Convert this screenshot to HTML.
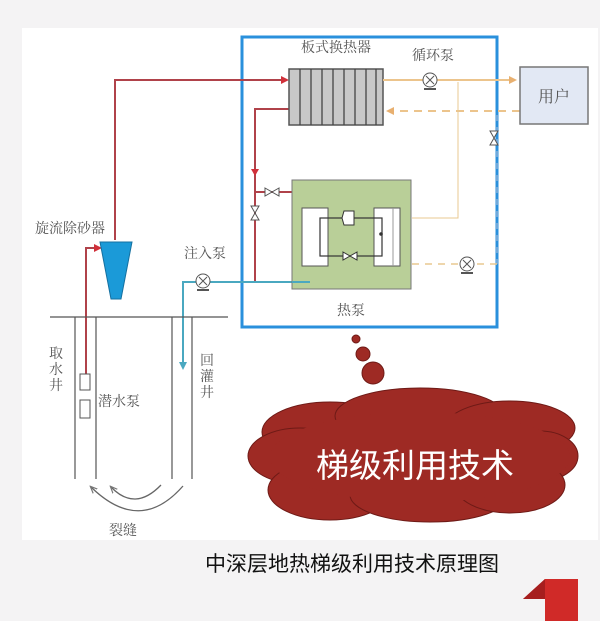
<!DOCTYPE html>
<html><head><meta charset="utf-8"><style>
html,body{margin:0;padding:0;background:#f4f3f4;}
svg{display:block;}
text{font-family:"Liberation Serif","Noto Serif CJK SC",serif;fill:#555;}
</style></head><body>
<svg width="600" height="621" viewBox="0 0 600 621" xmlns="http://www.w3.org/2000/svg">
<defs>
<marker id="ar" markerWidth="8" markerHeight="8" refX="6" refY="4" orient="auto" markerUnits="userSpaceOnUse"><path d="M0,0 L8,4 L0,8z" fill="#d0303a"/></marker>
<marker id="ao" markerWidth="8" markerHeight="8" refX="6" refY="4" orient="auto" markerUnits="userSpaceOnUse"><path d="M0,0 L8,4 L0,8z" fill="#e8b070"/></marker>
<marker id="at" markerWidth="8" markerHeight="8" refX="6" refY="4" orient="auto" markerUnits="userSpaceOnUse"><path d="M0,0 L8,4 L0,8z" fill="#4aa8c0"/></marker>
<marker id="ag" markerWidth="8" markerHeight="8" refX="6" refY="4" orient="auto" markerUnits="userSpaceOnUse"><path d="M0,1 L7,4 L0,7" fill="none" stroke="#777" stroke-width="1.2"/></marker>
</defs>
<rect x="22" y="28" width="576" height="512" fill="#fff"/>

<rect x="242" y="37" width="255" height="290" fill="none" stroke="#2a90dc" stroke-width="3"/>

<polyline points="115,240 115,80 287,80" fill="none" stroke="#b0424a" stroke-width="2" marker-end="url(#ar)"/>
<polyline points="289,109 255,109 255,282" fill="none" stroke="#b0424a" stroke-width="2"/>
<path d="M255,176 l-4,-7 h8z" fill="#d0303a"/>
<polyline points="255,192 309,192 309,282" fill="none" stroke="#b0424a" stroke-width="2"/>
<polyline points="86,376 86,248 100,248" fill="none" stroke="#b0424a" stroke-width="2" marker-end="url(#ar)"/>
<g stroke="#555" fill="#fff" stroke-width="1"><path d="M265,188 l7,4 l-7,4z M279,188 l-7,4 l7,4z"/><path d="M251,206 l4,7 l4,-7z M251,220 l4,-7 l4,7z"/></g>

<polyline points="309,282 183,282 183,368" fill="none" stroke="#4aa8c0" stroke-width="2" marker-end="url(#at)"/>
<circle cx="203" cy="281" r="7" fill="#fff" stroke="#555"/><path d="M199,277l8,8M207,277l-8,8" stroke="#555"/><path d="M197,290h12" stroke="#555" stroke-width="2"/>

<rect x="289" y="69" width="94" height="56" fill="#c8c8c8" stroke="#555" stroke-width="1.5"/>
<g stroke="#444" stroke-width="1.3"><path d="M300,69v56M311,69v56M322,69v56M333,69v56M344,69v56M355,69v56M366,69v56M376,69v56"/></g>

<line x1="383" y1="80" x2="515" y2="80" stroke="#ecc48c" stroke-width="2" marker-end="url(#ao)"/>
<line x1="520" y1="111" x2="388" y2="111" stroke="#ecc48c" stroke-width="2" stroke-dasharray="8,6" marker-end="url(#ao)"/>
<polyline points="412,218 458,218 458,82" fill="none" stroke="#e8c890" stroke-width="1"/>
<circle cx="430" cy="80" r="7" fill="#fff" stroke="#555"/><path d="M426,76l8,8M434,76l-8,8" stroke="#555"/><path d="M424,89h12" stroke="#555" stroke-width="2"/>

<rect x="520" y="67" width="68" height="57" fill="#e2e8f4" stroke="#777" stroke-width="1.5"/>
<text x="554" y="102" font-size="16" text-anchor="middle">用户</text>

<line x1="497" y1="115" x2="497" y2="264" stroke="#8ab0d8" stroke-width="1.5" stroke-dasharray="6,6"/>
<line x1="412" y1="264" x2="497" y2="264" stroke="#e8c890" stroke-width="1.5" stroke-dasharray="7,6"/>
<circle cx="467" cy="264" r="7" fill="#fff" stroke="#555"/><path d="M463,260l8,8M471,260l-8,8" stroke="#555"/><path d="M461,273h12" stroke="#555" stroke-width="2"/>
<g stroke="#555" fill="#fff"><path d="M490,131 l4,7 l4,-7z M490,145 l4,-7 l4,7z"/></g>

<rect x="292" y="180" width="119" height="109" fill="#b9cf98" stroke="#777" stroke-width="1"/>
<rect x="302" y="208" width="26" height="58" fill="#fff" stroke="#555"/>
<rect x="374" y="208" width="26" height="58" fill="#fff" stroke="#555"/>
<line x1="393" y1="208" x2="393" y2="266" stroke="#999"/>
<rect x="320" y="218" width="62" height="38" fill="none" stroke="#333" stroke-width="1.2"/>
<path d="M344,211 h10 v14 h-10 l-2,-7z" fill="#fff" stroke="#333"/>
<path d="M343,252 l7,4 l-7,4z M357,252 l-7,4 l7,4z" fill="#fff" stroke="#333"/>
<circle cx="381" cy="234" r="1.8" fill="#333"/>
<line x1="292" y1="282" x2="310" y2="282" stroke="#4aa8c0" stroke-width="2"/>

<text x="336" y="52" font-size="14" text-anchor="middle">板式换热器</text>
<text x="433" y="60" font-size="14" text-anchor="middle">循环泵</text>
<text x="351" y="315" font-size="14" text-anchor="middle">热泵</text>
<text x="70" y="233" font-size="14" text-anchor="middle">旋流除砂器</text>
<text x="205" y="258" font-size="14" text-anchor="middle">注入泵</text>

<path d="M100,242 h32 l-11,57 h-10z" fill="#1b9ad8" stroke="#1570a0"/>

<line x1="50" y1="317" x2="228" y2="317" stroke="#555" stroke-width="1.2"/>
<g stroke="#555" stroke-width="1.2"><path d="M75,317v162M96,317v162M172,317v162M192,317v162"/></g>
<rect x="80" y="374" width="10" height="16" fill="#fff" stroke="#555"/>
<rect x="80" y="400" width="10" height="18" fill="#fff" stroke="#555"/>
<text x="119" y="406" font-size="14" text-anchor="middle">潜水泵</text>
<text font-size="14" text-anchor="middle"><tspan x="56" y="358">取</tspan><tspan x="56" y="374">水</tspan><tspan x="56" y="390">井</tspan></text>
<text font-size="14" text-anchor="middle"><tspan x="207" y="365">回</tspan><tspan x="207" y="381">灌</tspan><tspan x="207" y="397">井</tspan></text>
<path d="M183,486 Q140,535 91,487" fill="none" stroke="#666" stroke-width="1.3" marker-end="url(#ag)"/>
<path d="M161,485 Q135,512 111,487" fill="none" stroke="#666" stroke-width="1.3" marker-end="url(#ag)"/>
<text x="123" y="535" font-size="14" text-anchor="middle">裂缝</text>

<g fill="#9e2a24" stroke="#6e1a16"><circle cx="356" cy="339" r="4"/><circle cx="363" cy="354" r="7"/><circle cx="373" cy="373" r="11"/></g>
<g fill="#9e2a24" stroke="#6e1a16" stroke-width="1">
<ellipse cx="330" cy="432" rx="68" ry="30"/>
<ellipse cx="420" cy="416" rx="85" ry="28"/>
<ellipse cx="510" cy="428" rx="65" ry="27"/>
<ellipse cx="540" cy="456" rx="38" ry="25"/>
<ellipse cx="300" cy="456" rx="52" ry="28"/>
<ellipse cx="330" cy="490" rx="62" ry="30"/>
<ellipse cx="430" cy="495" rx="80" ry="27"/>
<ellipse cx="510" cy="485" rx="55" ry="28"/>
</g>
<ellipse cx="420" cy="457" rx="150" ry="45" fill="#9e2a24"/>
<text x="415" y="477" font-size="33" text-anchor="middle" style="fill:#fff;font-family:'Liberation Sans','Noto Sans CJK SC',sans-serif">梯级利用技术</text>

<text x="352" y="571" font-size="21" text-anchor="middle" style="fill:#111;font-family:'Liberation Sans','Noto Sans CJK SC',sans-serif">中深层地热梯级利用技术原理图</text>
<path d="M523,599 L545,579 L578,579 L578,621 L545,621 L545,599z" fill="#d02a28"/>
<path d="M523,599 L545,579 L545,599z" fill="#a61e1e"/>
</svg>
</body></html>
